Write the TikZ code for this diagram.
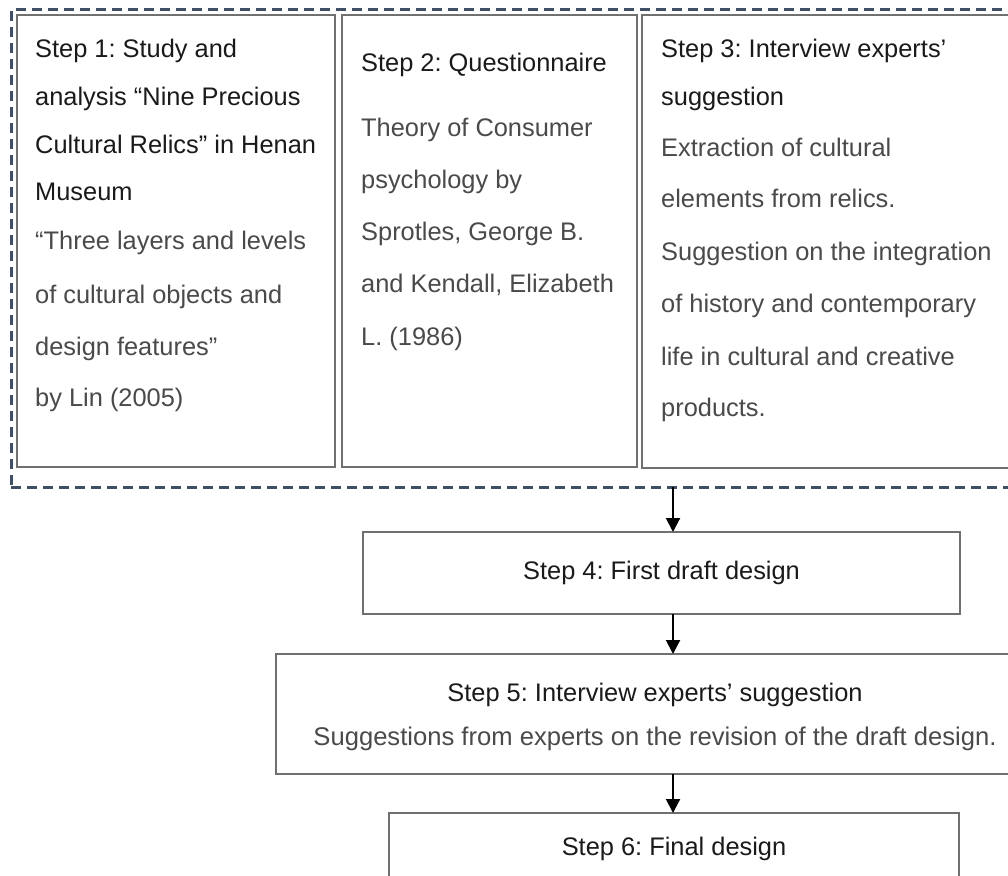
\documentclass[tikz,border=0pt]{standalone}
\usepackage{fontspec}
\setmainfont{Liberation Sans}
\usetikzlibrary{arrows.meta}
\definecolor{dashc}{HTML}{3E4F66}
\definecolor{boxc}{HTML}{707070}
\definecolor{headc}{HTML}{1A1A1A}
\definecolor{bodyc}{HTML}{4A4A4A}
\frenchspacing
\tikzset{
  stepbox/.style={rectangle, draw=boxc, line width=1.5pt, fill=white, inner sep=0pt, outer sep=0pt},
  groupbox/.style={rectangle, draw=dashc, line width=3pt, dash pattern=on 10pt off 6pt, inner sep=0pt, outer sep=0pt},
  headtxt/.style={anchor=base west, inner sep=0pt, text=headc, font=\fontsize{25.4}{30}\selectfont},
  bodytxt/.style={anchor=base west, inner sep=0pt, text=bodyc, font=\fontsize{25.4}{30}\selectfont},
  headmid/.style={anchor=base, inner sep=0pt, text=headc, font=\fontsize{25.4}{30}\selectfont},
  bodymid/.style={anchor=base, inner sep=0pt, text=bodyc, font=\fontsize{25.6}{30}\selectfont},
  flow/.style={draw=black, line width=2pt, -{Triangle[length=14pt,width=14pt]}}
}
\begin{document}
\begin{tikzpicture}[x=1pt,y=-1pt]
\useasboundingbox (0,0) rectangle (1008,875);
\clip (0,0) rectangle (1008,875);
\fill[white] (0,0) rectangle (1008,875);

% group and boxes
\node[groupbox, minimum width=1009pt, minimum height=477pt] (grp) at (515.5,248.5) {};
\node[stepbox, minimum width=318pt, minimum height=452pt] (b1) at (176,241) {};
\node[stepbox, minimum width=295pt, minimum height=452pt] (b2) at (489.5,241) {};
\node[stepbox, minimum width=383pt, minimum height=453pt] (b3) at (833.5,241.5) {};
\node[stepbox, minimum width=597pt, minimum height=82pt, text=headc, font=\fontsize{25.4}{30}\selectfont] (s4) at (661.5,573) {Step 4: First draft design};
\node[stepbox, minimum width=758pt, minimum height=120pt] (s5) at (655,714) {};
\node[stepbox, minimum width=570pt, minimum height=100pt] (s6) at (674,863) {};

% box 1 text
\node[headtxt] (b1h1) at (35,57) {Step 1: Study and};
\node[headtxt] (b1h2) at (35,105) {analysis “Nine Precious};
\node[headtxt] (b1h3) at (35,153) {Cultural Relics” in Henan};
\node[headtxt] (b1h4) at (35,200) {Museum};
\node[bodytxt] (b1t1) at (35,249) {“Three layers and levels};
\node[bodytxt] (b1t2) at (35,303) {of cultural objects and};
\node[bodytxt] (b1t3) at (35,355) {design features”};
\node[bodytxt] (b1t4) at (35,406) {by Lin (2005)};

% box 2 text
\node[headtxt] (b2h1) at (361,71) {Step 2: Questionnaire};
\node[bodytxt] (b2t1) at (361,136) {Theory of Consumer};
\node[bodytxt] (b2t2) at (361,188) {psychology by};
\node[bodytxt] (b2t3) at (361,240) {Sprotles, George B.};
\node[bodytxt] (b2t4) at (361,292) {and Kendall, Elizabeth};
\node[bodytxt] (b2t5) at (361,345) {L. (1986)};

% box 3 text
\node[headtxt] (b3h1) at (661,57) {Step 3: Interview experts’};
\node[headtxt] (b3h2) at (661,105) {suggestion};
\node[bodytxt] (b3t1) at (661,156) {Extraction of cultural};
\node[bodytxt] (b3t2) at (661,207) {elements from relics.};
\node[bodytxt] (b3t3) at (661,260) {Suggestion on the integration};
\node[bodytxt] (b3t4) at (661,312) {of history and contemporary};
\node[bodytxt] (b3t5) at (661,365) {life in cultural and creative};
\node[bodytxt] (b3t6) at (661,416) {products.};

% step 5 and 6 text
\node[headmid] (s5h) at (655,701) {Step 5: Interview experts’ suggestion};
\node[bodymid] (s5t) at (655,745) {Suggestions from experts on the revision of the draft design.};
\node[headmid] (s6h) at (674,855) {Step 6: Final design};

% connectors
\coordinate (ax) at (673,0);
\draw[flow] (grp.south -| ax) -- (s4.north -| ax);
\draw[flow] (s4.south -| ax) -- (s5.north -| ax);
\draw[flow] (s5.south -| ax) -- (s6.north -| ax);
\end{tikzpicture}
\end{document}
